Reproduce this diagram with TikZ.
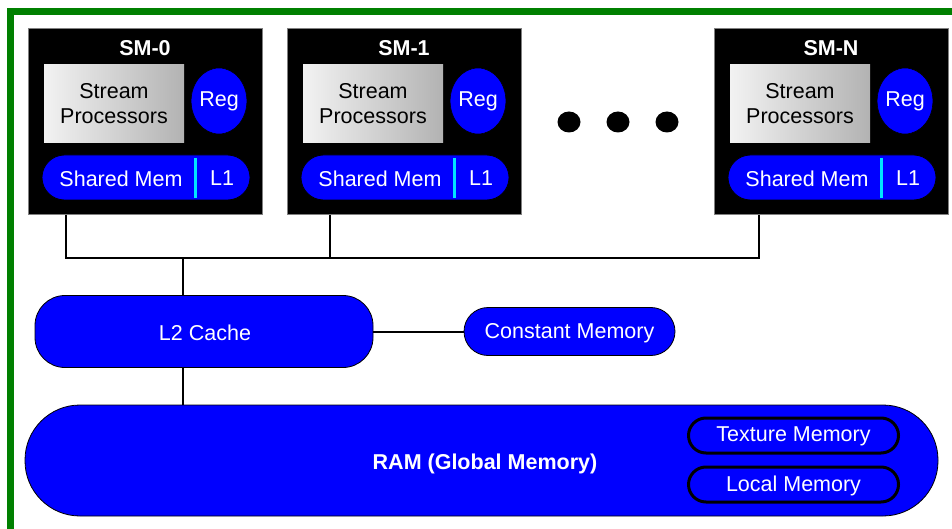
\documentclass[tikz,border=0pt]{standalone}
\usepackage{fontspec}
\setmainfont{Liberation Sans}
\usetikzlibrary{shapes.misc,shapes.geometric}
\definecolor{frameGreen}{RGB}{0,128,0}
\definecolor{memBlue}{RGB}{0,0,255}
\definecolor{divCyan}{RGB}{0,230,255}
\begin{document}
\begin{tikzpicture}[x=1pt,y=-1pt,
  every node/.style={font=\fontsize{21.5}{25}\selectfont, inner sep=0pt, outer sep=0pt},
  smbox/.style={draw=gray, fill=black, line width=1pt, minimum width=234pt, minimum height=186pt, anchor=north west},
  smtitle/.style={text=white, font=\fontsize{21.5}{25}\selectfont\bfseries},
  spbox/.style={left color=white!95!black, right color=white!70!black, minimum width=140pt, minimum height=78pt, align=center, text=black},
  regnode/.style={ellipse, draw=black, line width=0.6pt, fill=memBlue, minimum width=40pt, minimum height=66pt, text=white},
  pill/.style={rounded rectangle, draw=black, line width=0.8pt, fill=memBlue, text=white},
  sharedpill/.style={pill, minimum width=208pt, minimum height=45pt},
  innerpill/.style={pill, line width=3pt, minimum width=210pt, minimum height=35pt},
  bigbox/.style={rectangle, draw=black, line width=0.8pt, fill=memBlue, text=white},
  wtext/.style={text=white},
  divider/.style={draw=divCyan, line width=3pt},
  conn/.style={draw=black, line width=2pt},
  dot/.style={ellipse, fill=black, minimum width=23pt, minimum height=21pt}
]
\useasboundingbox (0,0) rectangle (952,529);
\fill[white] (0,0) rectangle (952,529);
% green frame
\draw[frameGreen, line width=7pt] (10.5,540) -- (10.5,11.5) -- (970,11.5);

% SM blocks
\foreach \x/\t/\n in {28/SM-0/0, 287/SM-1/1, 714/SM-N/2}{
  \node[smbox] (sm\n) at (\x,29) {};
  \node[smtitle] (smt\n) at (\x+117,48.5) {\t};
  \node[spbox] (sp\n) at (\x+86,104) {Stream\\Processors};
  \node[regnode] (reg\n) at (\x+191,101) {Reg};
  \node[sharedpill] (sh\n) at (\x+118,177.5) {};
  \node[wtext] (sht\n) at (\x+93,178.5) {Shared Mem};
  \node[wtext] (l1\n) at (\x+194,178.5) {L1};
  \draw[divider] (\x+167,158) -- (\x+167,198);
}

% dots
\node[dot] (d1) at (569,122) {};
\node[dot] (d2) at (618,122) {};
\node[dot] (d3) at (667,122) {};

% bus
\coordinate (b0) at (66,258);
\coordinate (b1) at (330,258);
\coordinate (b2) at (183,258);
\coordinate (bN) at (759,258);
\draw[conn] (sm0.south -| b0) -- (b0) -- (bN) -- (sm2.south -| bN);
\draw[conn] (sm1.south -| b1) -- (b1);

% L2 and constant
\node[bigbox, rounded corners=30pt, minimum width=338pt, minimum height=72pt] (l2) at (204,331.5) {};
\node[wtext] (l2t) at (205,332.5) {L2 Cache};
\node[pill, minimum width=211pt, minimum height=48pt] (const) at (569.5,331.5) {};
\node[wtext] (constt) at (569.5,333) {Constant Memory};
\draw[conn] (b2) -- (l2.north -| b2);
\draw[conn] (l2.east) -- (const.west);

% RAM
\node[bigbox, rounded corners=55pt, minimum width=913pt, minimum height=111pt] (ram) at (481.5,460.5) {};
\node[wtext, font=\fontsize{21.5}{25}\selectfont\bfseries] (ramt) at (485,463.5) {RAM (Global Memory)};
\draw[conn] (l2.south -| b2) -- (ram.north -| b2);
\node[innerpill] (tex) at (793.5,435.5) {};
\node[wtext] (text) at (793.5,436.5) {Texture Memory};
\node[innerpill] (loc) at (793.5,484.5) {};
\node[wtext] (loct) at (793.5,485.5) {Local Memory};
\end{tikzpicture}
\end{document}
